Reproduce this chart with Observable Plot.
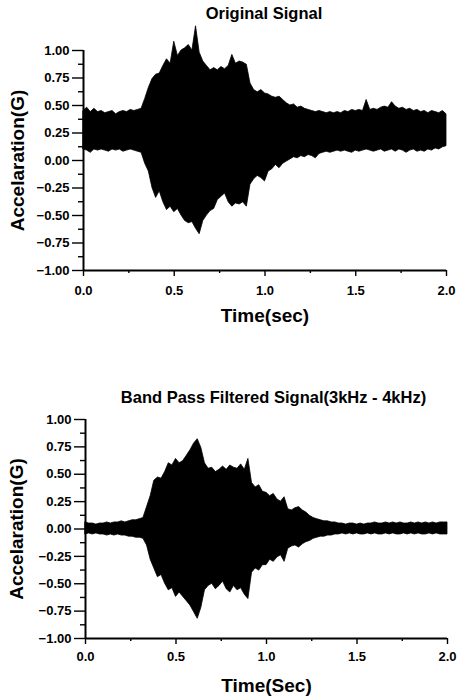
<!DOCTYPE html>
<html>
<head>
<meta charset="utf-8">
<script src="https://cdn.jsdelivr.net/npm/d3@7"></script>
<script src="https://cdn.jsdelivr.net/npm/@observablehq/plot@0.6"></script>
<style>
  html, body { margin: 0; padding: 0; background: #fff; }
  #wrap { position: relative; width: 458px; height: 700px; font-family: "Liberation Sans", Arial, sans-serif; }
  #top, #bottom { position: absolute; left: 0; }
  #top { top: 0; }
  #bottom { top: 330px; }
  #wrap svg text { font-weight: bold; }
</style>
</head>
<body>
<div id="wrap"><div id="top"></div><div id="bottom"></div></div>
<script>
// sampling step of the envelope readings (seconds)
const step = 0.02;

// Original signal: upper and lower envelope, read every 0.02 s from 0.00 to 2.00
const originalUpper = [
  0.45,0.48,0.44,0.47,0.44,0.45,0.43,0.44,0.45,0.42,
  0.44,0.45,0.44,0.46,0.45,0.46,0.47,0.56,0.66,0.74,
  0.78,0.79,0.86,0.92,0.88,1.08,0.95,1.00,1.02,1.05,
  1.00,1.22,0.98,0.90,0.86,0.82,0.84,0.82,0.85,0.83,
  0.86,0.96,0.88,0.90,0.89,0.87,0.70,0.64,0.62,0.64,
  0.61,0.60,0.58,0.57,0.58,0.55,0.52,0.50,0.51,0.48,
  0.49,0.47,0.46,0.45,0.44,0.45,0.44,0.43,0.44,0.43,
  0.44,0.43,0.45,0.44,0.46,0.45,0.46,0.45,0.55,0.46,
  0.47,0.46,0.48,0.49,0.48,0.53,0.49,0.47,0.48,0.46,
  0.47,0.45,0.46,0.44,0.45,0.43,0.45,0.44,0.43,0.45,
  0.42
];
const originalLower = [
  0.10,0.09,0.07,0.10,0.09,0.10,0.09,0.08,0.10,0.09,
  0.10,0.08,0.09,0.10,0.09,0.08,0.07,-0.03,-0.10,-0.25,
  -0.34,-0.28,-0.38,-0.45,-0.42,-0.47,-0.44,-0.50,-0.55,-0.57,
  -0.56,-0.62,-0.67,-0.55,-0.50,-0.46,-0.44,-0.36,-0.33,-0.30,
  -0.38,-0.42,-0.39,-0.40,-0.38,-0.42,-0.22,-0.17,-0.14,-0.16,
  -0.19,-0.10,-0.08,-0.04,-0.07,-0.03,-0.01,0.01,0.03,0.02,
  0.04,0.03,0.05,0.04,0.02,0.06,0.07,0.08,0.07,0.08,
  0.09,0.08,0.09,0.08,0.07,0.09,0.08,0.09,0.10,0.09,
  0.08,0.09,0.10,0.08,0.09,0.10,0.08,0.10,0.09,0.07,
  0.09,0.10,0.08,0.09,0.08,0.10,0.09,0.11,0.10,0.12,
  0.13
];

// Band pass filtered signal (3kHz - 4kHz): upper and lower envelope
const filteredUpper = [
  0.06,0.05,0.05,0.04,0.05,0.05,0.06,0.05,0.06,0.06,
  0.07,0.06,0.07,0.08,0.08,0.09,0.10,0.20,0.30,0.44,
  0.47,0.46,0.52,0.60,0.58,0.64,0.60,0.62,0.67,0.72,
  0.78,0.82,0.74,0.60,0.55,0.56,0.52,0.54,0.57,0.54,
  0.58,0.56,0.55,0.59,0.54,0.64,0.42,0.38,0.40,0.34,
  0.33,0.30,0.32,0.27,0.25,0.29,0.18,0.17,0.19,0.20,
  0.17,0.15,0.12,0.10,0.09,0.08,0.07,0.07,0.06,0.06,
  0.05,0.05,0.04,0.05,0.05,0.04,0.05,0.04,0.05,0.05,
  0.06,0.05,0.05,0.06,0.05,0.06,0.05,0.06,0.05,0.05,
  0.06,0.05,0.06,0.05,0.06,0.05,0.06,0.05,0.06,0.06,
  0.06
];
const filteredLower = [
  -0.05,-0.04,-0.05,-0.04,-0.05,-0.05,-0.06,-0.05,-0.06,-0.05,
  -0.06,-0.06,-0.07,-0.07,-0.08,-0.08,-0.09,-0.15,-0.28,-0.36,
  -0.44,-0.42,-0.50,-0.56,-0.54,-0.62,-0.58,-0.62,-0.66,-0.70,
  -0.76,-0.82,-0.72,-0.56,-0.52,-0.50,-0.55,-0.52,-0.48,-0.55,
  -0.58,-0.52,-0.56,-0.54,-0.60,-0.64,-0.40,-0.36,-0.38,-0.33,
  -0.33,-0.28,-0.30,-0.26,-0.24,-0.30,-0.18,-0.16,-0.15,-0.17,
  -0.14,-0.12,-0.11,-0.09,-0.08,-0.07,-0.07,-0.06,-0.06,-0.05,
  -0.05,-0.04,-0.05,-0.04,-0.05,-0.04,-0.05,-0.05,-0.04,-0.05,
  -0.04,-0.05,-0.05,-0.04,-0.05,-0.04,-0.05,-0.05,-0.04,-0.05,
  -0.04,-0.05,-0.04,-0.05,-0.05,-0.04,-0.05,-0.04,-0.05,-0.05,
  -0.05
];

// tick labels
const xTicks = [0, 0.5, 1.0, 1.5, 2.0];
const xMinor = [0.25, 0.75, 1.25, 1.75];
const yTicks = [-1, -0.75, -0.5, -0.25, 0, 0.25, 0.5, 0.75, 1];
const yMinor = [-0.875, -0.625, -0.375, -0.125, 0.125, 0.375, 0.625, 0.875];

const titles = ["Original Signal", "Band Pass Filtered Signal(3kHz - 4kHz)"];
const xLabels = ["Time(sec)", "Time(Sec)"];
const yLabel = "Accelaration(G)";

function table(up, lo) {
  return up.map((h, i) => ({t: i * step, hi: h, lo: lo[i]}));
}

function panel({data, title, xLabel, height, mt, mb, ml, mr, titleDy, titleDx, xLabelDy, yLabelDx, xPad}) {
  return Plot.plot({
    width: 458,
    height,
    marginTop: mt,
    marginBottom: mb,
    marginLeft: ml,
    marginRight: mr,
    style: {fontFamily: "'Liberation Sans', Arial, sans-serif", fontSize: "13px", fontWeight: "bold", color: "black", background: "white"},
    x: {domain: [0, 2]},
    y: {domain: [-1, 1]},
    marks: [
      Plot.areaY(data, {x: "t", y1: "lo", y2: "hi", fill: "black", stroke: "black", strokeWidth: 0.8}),
      Plot.axisY(yTicks, {tickSize: 11, tickPadding: 3, tickFormat: d3.format(".2f"), strokeWidth: 1.4, label: null, fontSize: 13, fontWeight: "bold"}),
      Plot.axisY(yMinor, {tickSize: 5, text: null, strokeWidth: 1.4, label: null}),
      Plot.axisX(xTicks, {tickSize: 6, tickPadding: xPad, tickFormat: d3.format(".1f"), strokeWidth: 1.4, label: null, fontSize: 13, fontWeight: "bold"}),
      Plot.axisX(xMinor, {tickSize: 3, text: null, strokeWidth: 1.4, label: null}),
      Plot.ruleX([0], {strokeWidth: 2}),
      Plot.ruleY([-1], {strokeWidth: 2}),
      Plot.text([title], {frameAnchor: "top", dy: titleDy, dx: titleDx, fontSize: 16.5, fontWeight: "bold", fill: "black", lineAnchor: "top", textAnchor: "middle"}),
      Plot.text([xLabel], {frameAnchor: "bottom", dy: xLabelDy, fontSize: 19, fontWeight: "bold", fill: "black", lineAnchor: "top", textAnchor: "middle"}),
      Plot.text([yLabel], {frameAnchor: "left", dx: yLabelDx, rotate: -90, fontSize: 19, fontWeight: "bold", fill: "black", textAnchor: "middle"})
    ]
  });
}

document.getElementById("top").append(panel({
  data: table(originalUpper, originalLower),
  title: titles[0], xLabel: xLabels[0],
  height: 330, mt: 50, mb: 60, ml: 83, mr: 12,
  titleDy: -43, titleDx: -1, xLabelDy: 38, yLabelDx: -66, xPad: 9
}));
document.getElementById("bottom").append(panel({
  data: table(filteredUpper, filteredLower),
  title: titles[1], xLabel: xLabels[1],
  height: 370, mt: 89, mb: 62, ml: 85, mr: 11,
  titleDy: -28, titleDx: 7, xLabelDy: 40, yLabelDx: -69, xPad: 7
}));
</script>
</body>
</html>
